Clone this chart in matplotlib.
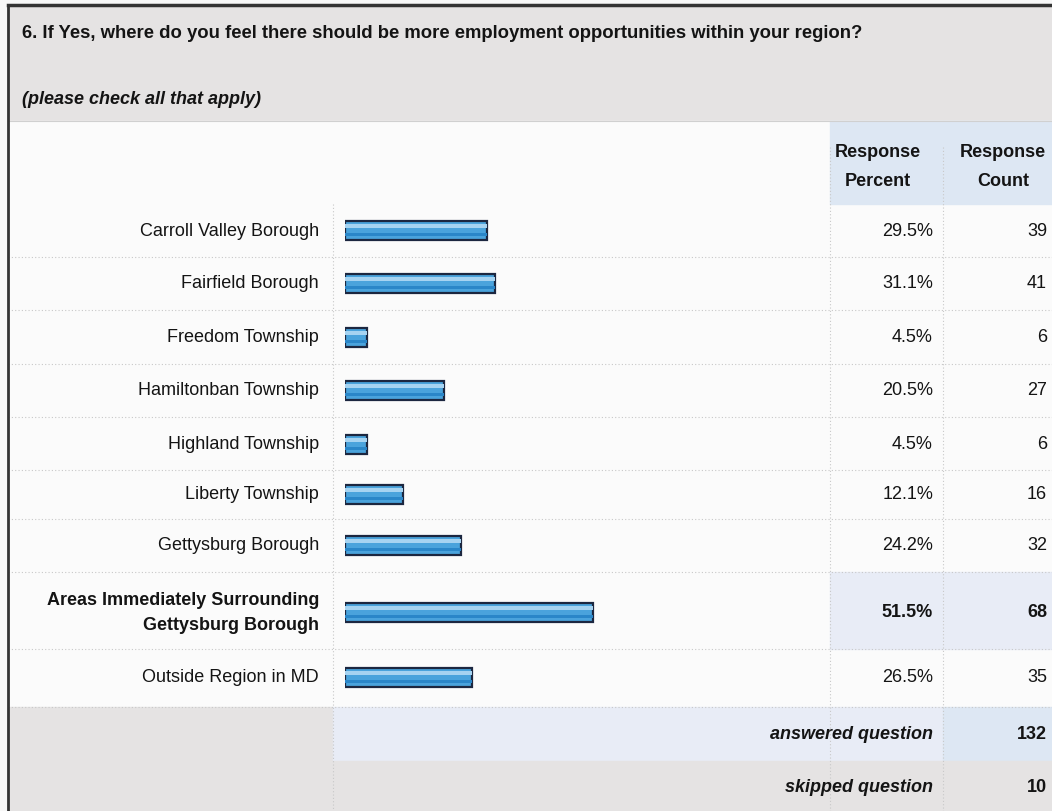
import matplotlib
matplotlib.use("Agg")
import matplotlib.pyplot as plt
from matplotlib.patches import Rectangle

categories = ["Carroll Valley Borough", "Fairfield Borough", "Freedom Township",
              "Hamiltonban Township", "Highland Township", "Liberty Township",
              "Gettysburg Borough", "Areas Immediately Surrounding\nGettysburg Borough",
              "Outside Region in MD"]
percents = [29.5, 31.1, 4.5, 20.5, 4.5, 12.1, 24.2, 51.5, 26.5]
counts = [39, 41, 6, 27, 6, 16, 32, 68, 35]
answered = 132
skipped = 10
title = "6. If Yes, where do you feel there should be more employment opportunities within your region?"
subtitle = "(please check all that apply)"

W, H = 1052, 812
plt.rcParams['font.family'] = ['Liberation Sans', 'DejaVu Sans']
fig = plt.figure(figsize=(W / 100, H / 100), dpi=100)
ax = fig.add_axes([0, 0, 1, 1])
ax.set_xlim(0, W)
ax.set_ylim(H, 0)
ax.axis('off')

gray = '#e5e3e3'
blue_cell = '#dde7f3'
blue_row = '#e8ecf6'
tc = '#141414'

# backgrounds
ax.add_patch(Rectangle((0, 0), W, H, color='#f7f7f7', zorder=0))
ax.add_patch(Rectangle((8, 8), W, 114, color=gray, zorder=1))
ax.add_patch(Rectangle((8, 122), W, 690, color='#fbfbfb', zorder=1))
ax.add_patch(Rectangle((830, 122), 113, 83, color=blue_cell, zorder=1))
ax.add_patch(Rectangle((943, 122), 109, 83, color=blue_cell, zorder=1))

row_centers = [231, 284, 338, 391, 445, 495, 546, 613, 678]
row_bounds = [205, 258, 311, 365, 418, 471, 520, 573, 650, 708]
# highlighted row
ax.add_patch(Rectangle((830, row_bounds[7]), W - 830, row_bounds[8] - row_bounds[7], color=blue_row, zorder=1))
# answered / skipped rows
ax.add_patch(Rectangle((8, 708), 325, 54, color=gray, zorder=1))
ax.add_patch(Rectangle((333, 708), 610, 54, color=blue_row, zorder=1))
ax.add_patch(Rectangle((943, 708), 109, 54, color=blue_cell, zorder=1))
ax.add_patch(Rectangle((8, 762), W, 50, color=gray, zorder=1))

# frame
ax.plot([8, 8], [6, H], color='#333333', lw=2.0, zorder=5)
ax.plot([8, W], [6, 6], color='#333333', lw=2.5, zorder=5)

# dotted separators
for yb in row_bounds[1:]:
    ax.plot([8, W], [yb, yb], color='#c8c8c8', lw=0.8, ls=(0, (1, 2)), zorder=2)
ax.plot([8, W], [122, 122], color='#d0d0d0', lw=0.8, zorder=2)
for xv in [333, 830, 943]:
    ax.plot([xv, xv], [148 if xv > 800 else 205, H], color='#c8c8c8', lw=0.8, ls=(0, (1, 2)), zorder=2)

fs = 13
ax.text(22, 33, title, fontsize=13.3, fontweight='bold', va='center', ha='left', color=tc, zorder=6)
ax.text(22, 100, subtitle, fontsize=fs, fontweight='bold', style='italic', va='center', ha='left', color=tc, zorder=6)
ax.text(878, 167, "Response\nPercent", fontsize=fs, fontweight='bold', ha='center', va='center',
        linespacing=1.95, color=tc, zorder=6)
ax.text(1003, 167, "Response\nCount", fontsize=fs, fontweight='bold', ha='center', va='center',
        linespacing=1.95, color=tc, zorder=6)

for i, (cat, p, c, yc) in enumerate(zip(categories, percents, counts, row_centers)):
    bold = (i == 7)
    w = 'bold' if bold else 'normal'
    ax.text(319, yc, cat, fontsize=fs, ha='right', va='center', color=tc,
            fontweight=w, linespacing=1.6, zorder=6)
    ax.text(933, yc, f"{p:.1f}%", fontsize=fs, ha='right', va='center', color=tc, fontweight=w, zorder=6)
    ax.text(1047, yc, f"{c}", fontsize=fs, ha='right', va='center', color=tc, fontweight=w, zorder=6)

ax.text(933, 735, "answered question", fontsize=fs, fontweight='bold', style='italic',
        ha='right', va='center', color=tc, zorder=6)
ax.text(1047, 735, f"{answered}", fontsize=fs, fontweight='bold', ha='right', va='center', color=tc, zorder=6)
ax.text(933, 788, "skipped question", fontsize=fs, fontweight='bold', style='italic',
        ha='right', va='center', color=tc, zorder=6)
ax.text(1047, 788, f"{skipped}", fontsize=fs, fontweight='bold', ha='right', va='center', color=tc, zorder=6)

# bars in their own axes (0-100 %)
x0, x1 = 345, 826
bax = fig.add_axes([x0 / W, 0, (x1 - x0) / W, 1])
bax.set_xlim(0, 100)
bax.set_ylim(H, 0)
bax.axis('off')
bax.patch.set_alpha(0)
bax.barh(row_centers, percents, height=19, left=0, color='#4aa3dc', edgecolor='#1c2740', linewidth=1.6, zorder=3)
bax.barh([y - 4.5 for y in row_centers], percents, height=4, left=0, color='#a6d3f1', linewidth=0, zorder=4)
bax.barh([y + 4 for y in row_centers], percents, height=3, left=0, color='#2a86c8', linewidth=0, zorder=4)

fig.savefig("out.png", dpi=100)
